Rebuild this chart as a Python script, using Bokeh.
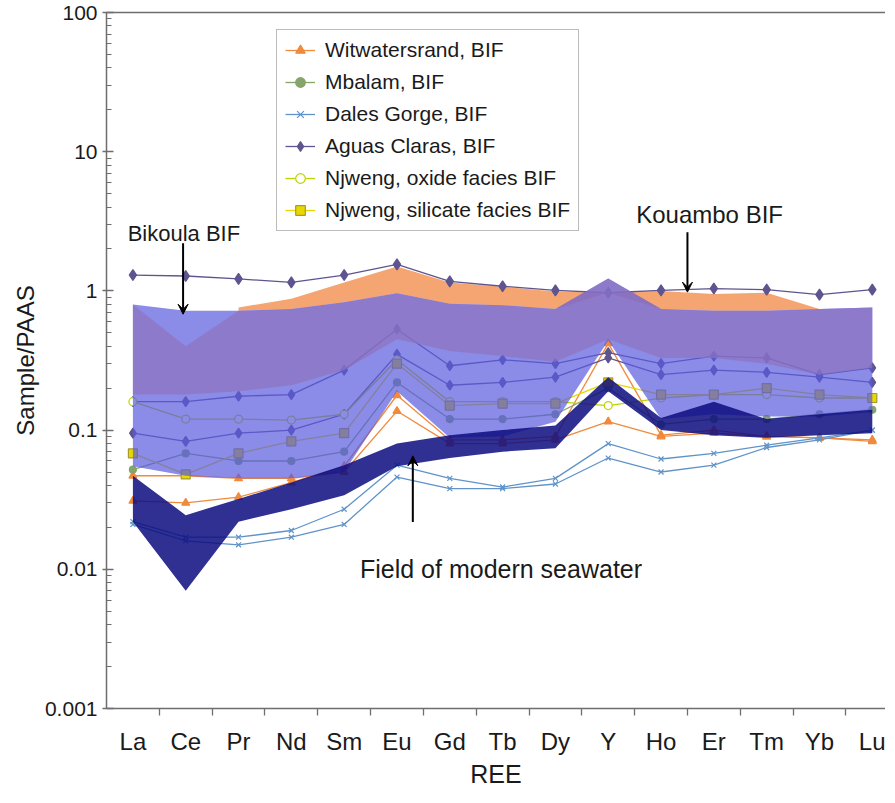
from bokeh.plotting import figure
from bokeh.models import Range1d, FixedTicker, LinearAxis, Legend, LegendItem, Arrow, VeeHead, Label
from bokeh.embed import file_html
from bokeh.resources import INLINE

# ---------------- data ----------------
cats = ["La", "Ce", "Pr", "Nd", "Sm", "Eu", "Gd", "Tb", "Dy", "Y", "Ho", "Er", "Tm", "Yb", "Lu"]

# fields
field_upper = [0.80, 0.72, 0.72, 0.74, 0.83, 0.96, 0.81, 0.79, 0.74, 1.23, 0.74, 0.72, 0.72, 0.74, 0.76]
field_lower = [0.055, 0.047, 0.045, 0.045, 0.05, 0.19, 0.088, 0.09, 0.115, 0.44, 0.12, 0.13, 0.125, 0.125, 0.135]
core_upper = [0.80, 0.40, 0.72, 0.74, 0.83, 0.96, 0.81, 0.79, 0.74, 1.23, 0.74, 0.72, 0.72, 0.74, 0.76]
core_lower = [0.18, 0.18, 0.19, 0.21, 0.27, 0.45, 0.37, 0.34, 0.31, 0.45, 0.33, 0.33, 0.30, 0.25, 0.28]
wit_field_cats = ["Pr", "Nd", "Sm", "Eu", "Gd", "Tb", "Dy", "Y", "Ho", "Er", "Tm", "Yb"]
wit_field_upper = [0.76, 0.88, 1.15, 1.50, 1.15, 1.07, 0.99, 0.97, 1.00, 0.95, 0.97, 0.74]
wit_field_lower = [0.72, 0.74, 0.83, 0.96, 0.81, 0.79, 0.74, 0.97, 0.74, 0.72, 0.72, 0.74]
sea_upper = [0.047, 0.0245, 0.032, 0.042, 0.056, 0.080, 0.092, 0.100, 0.108, 0.24, 0.122, 0.16, 0.12, 0.13, 0.14]
sea_lower = [0.022, 0.007, 0.022, 0.027, 0.034, 0.055, 0.063, 0.070, 0.074, 0.19, 0.100, 0.092, 0.088, 0.092, 0.095]

# sample series
witwatersrand_a = [0.031, 0.030, 0.033, 0.042, 0.055, 0.178, 0.085, 0.085, 0.090, 0.42, 0.092, 0.100, 0.090, 0.088, 0.085]
witwatersrand_b = [0.047, 0.047, 0.045, 0.045, 0.050, 0.137, 0.080, 0.080, 0.085, 0.115, 0.090, 0.095, 0.090, 0.088, 0.083]
mbalam = [0.052, 0.068, 0.060, 0.060, 0.070, 0.22, 0.12, 0.12, 0.13, 0.20, 0.11, 0.12, 0.12, 0.13, 0.14]
dales_a = [0.022, 0.017, 0.017, 0.019, 0.027, 0.056, 0.045, 0.039, 0.045, 0.080, 0.062, 0.068, 0.078, 0.088, 0.100]
dales_b = [0.021, 0.016, 0.015, 0.017, 0.021, 0.046, 0.038, 0.038, 0.041, 0.063, 0.050, 0.056, 0.075, 0.085, 0.100]
aguas_a = [1.30, 1.28, 1.22, 1.15, 1.30, 1.55, 1.17, 1.08, 1.01, 0.97, 1.01, 1.04, 1.02, 0.94, 1.02]
aguas_b = [0.16, 0.16, 0.175, 0.18, 0.27, 0.53, 0.29, 0.32, 0.30, 0.36, 0.30, 0.34, 0.33, 0.25, 0.28]
aguas_c = [0.095, 0.083, 0.095, 0.10, 0.13, 0.35, 0.21, 0.22, 0.24, 0.33, 0.25, 0.27, 0.26, 0.24, 0.22]
njweng_oxide = [0.16, 0.12, 0.12, 0.118, 0.13, 0.32, 0.16, 0.16, 0.16, 0.15, 0.17, 0.18, 0.18, 0.17, 0.17]
njweng_silicate = [0.068, 0.048, 0.068, 0.083, 0.095, 0.30, 0.15, 0.155, 0.155, 0.22, 0.18, 0.18, 0.20, 0.18, 0.17]

y_ticks = [0.001, 0.01, 0.1, 1, 10, 100]
y_tick_labels = ["0.001", "0.01", "0.1", "1", "10", "100"]

# ---------------- figure ----------------
FONT = "Liberation Sans"
AX = "#6e6e6e"

pos = {c: i + 0.5 for i, c in enumerate(cats)}
xv = [pos[c] for c in cats]
xw = [pos[c] for c in wit_field_cats]

p = figure(width=885, height=790, y_axis_type="log",
           x_range=Range1d(0, 14.75), y_range=Range1d(0.001, 100),
           output_backend="svg", toolbar_location=None,
           min_border_left=106, min_border_top=12, min_border_right=0, min_border_bottom=78)
p.xgrid.visible = False
p.ygrid.visible = False
p.outline_line_color = None
p.background_fill_color = "white"

# Witwatersrand field (behind)
p.varea(x=xw, y1=wit_field_lower, y2=wit_field_upper, fill_color="#F5A572", fill_alpha=1.0)

def series(vals, color, marker, size, fill=None, lw=1.3):
    r_line = p.line(xv, vals, line_color=color, line_width=lw)
    r_pt = p.scatter(xv, vals, marker=marker, size=size, line_color=color,
                     fill_color=fill if fill is not None else color, line_width=1.2)
    return [r_line, r_pt]

ORANGE = "#F08A3C"
GREEN = "#86A56A"
DALES = "#5F93C9"
AGUAS = "#5E548F"
OXIDE = "#BFD400"
SILIC = "#E8D800"

wa = series(witwatersrand_a, ORANGE, "triangle", 8)
series(witwatersrand_b, ORANGE, "triangle", 8)
mb = series(mbalam, GREEN, "circle", 7)
dg = series(dales_a, DALES, "x", 7)
series(dales_b, DALES, "x", 7)
ag = series(aguas_a, AGUAS, "diamond", 11)
series(aguas_b, AGUAS, "diamond", 10)
series(aguas_c, AGUAS, "diamond", 10)
ox = series(njweng_oxide, OXIDE, "circle", 8, fill="white")
si = series(njweng_silicate, SILIC, "square", 9)
si[1].glyph.line_color = "#A89A30"

# translucent fields on top
p.varea(x=xv, y1=field_lower, y2=field_upper, fill_color="#5A5ADE", fill_alpha=0.7)
p.varea(x=xv, y1=core_lower, y2=core_upper, fill_color="#8E74BE", fill_alpha=0.7)
p.varea(x=xv, y1=sea_lower, y2=sea_upper, fill_color="#0C0C80", fill_alpha=0.85)

# ---------------- axes ----------------
xa = p.xaxis[0]
xa.ticker = FixedTicker(ticks=xv, minor_ticks=[i for i in range(1, len(cats))])
xa.major_label_overrides = {pos[c]: c for c in cats}
xa.major_tick_line_color = None
xa.minor_tick_line_color = AX
xa.minor_tick_line_width = 1.3
xa.minor_tick_out = 7
xa.minor_tick_in = 0
xa.axis_line_color = AX
xa.axis_line_width = 1.5
xa.major_label_text_font = FONT
xa.major_label_text_font_size = "24px"
xa.major_label_text_color = "#1a1a1a"
xa.major_label_standoff = 12
xa.axis_label = "REE"
xa.axis_label_text_font = FONT
xa.axis_label_text_font_size = "25px"
xa.axis_label_text_font_style = "normal"
xa.axis_label_text_color = "#1a1a1a"
xa.axis_label_standoff = 2

ya = p.yaxis[0]
minor = [k * 10.0 ** d for d in range(-3, 2) for k in range(2, 10)]
ya.ticker = FixedTicker(ticks=y_ticks, minor_ticks=minor)
ya.major_label_overrides = {t: s for t, s in zip(y_ticks, y_tick_labels)}
ya.axis_line_color = AX
ya.axis_line_width = 1.5
ya.major_tick_line_color = AX
ya.major_tick_line_width = 1.3
ya.major_tick_in = 7
ya.major_tick_out = 4
ya.minor_tick_line_color = AX
ya.minor_tick_line_width = 1.2
ya.minor_tick_in = 5
ya.minor_tick_out = 0
ya.major_label_text_font = FONT
ya.major_label_text_font_size = "21px"
ya.major_label_text_color = "#1a1a1a"
ya.major_label_standoff = 5
ya.axis_label = "Sample/PAAS"
ya.axis_label_text_font = FONT
ya.axis_label_text_font_size = "24px"
ya.axis_label_text_font_style = "normal"
ya.axis_label_text_color = "#1a1a1a"
ya.axis_label_standoff = 3

top = LinearAxis(ticker=FixedTicker(ticks=[]), axis_line_color=AX, axis_line_width=1.5,
                 major_tick_line_color=None, minor_tick_line_color=None,
                 major_label_text_font_size="0px")
p.add_layout(top, "above")

# ---------------- legend ----------------
legend = Legend(items=[
    LegendItem(label="Witwatersrand, BIF", renderers=wa),
    LegendItem(label="Mbalam, BIF", renderers=mb),
    LegendItem(label="Dales Gorge, BIF", renderers=dg),
    LegendItem(label="Aguas Claras, BIF", renderers=ag),
    LegendItem(label="Njweng, oxide facies BIF", renderers=ox),
    LegendItem(label="Njweng, silicate facies BIF", renderers=si),
], location=(170, 477))
legend.label_text_font = FONT
legend.label_text_font_size = "21px"
legend.label_text_color = "#1a1a1a"
legend.glyph_width = 30
legend.glyph_height = 24
legend.label_height = 24
legend.spacing = 8
legend.padding = 8
legend.margin = 0
legend.label_standoff = 10
legend.border_line_color = "#7a7a7a"
legend.border_line_width = 1.5
legend.background_fill_color = "white"
legend.background_fill_alpha = 1.0
p.add_layout(legend)

# ---------------- annotations ----------------
for (xs, ys, xe, ye) in [(1.45, 2.2, 1.45, 0.68), (11.0, 2.64, 11.0, 0.98), (5.8, 0.0219, 5.8, 0.0653)]:
    p.add_layout(Arrow(end=VeeHead(size=10, fill_color="black", line_color="black"),
                       x_start=xs, y_start=ys, x_end=xe, y_end=ye,
                       line_color="black", line_width=2))

for (tx, ty, txt, size, align) in [(0.4, 2.6, "Bikoula BIF", "22px", "left"),
                                   (10.03, 3.56, "Kouambo BIF", "24px", "left"),
                                   (7.47, 0.0101, "Field of modern seawater", "25px", "center")]:
    p.add_layout(Label(x=tx, y=ty, text=txt, text_font=FONT, text_font_size=size,
                       text_color="#1a1a1a", text_align=align, text_baseline="middle"))

open("out.html", "w").write(file_html(p, INLINE))
